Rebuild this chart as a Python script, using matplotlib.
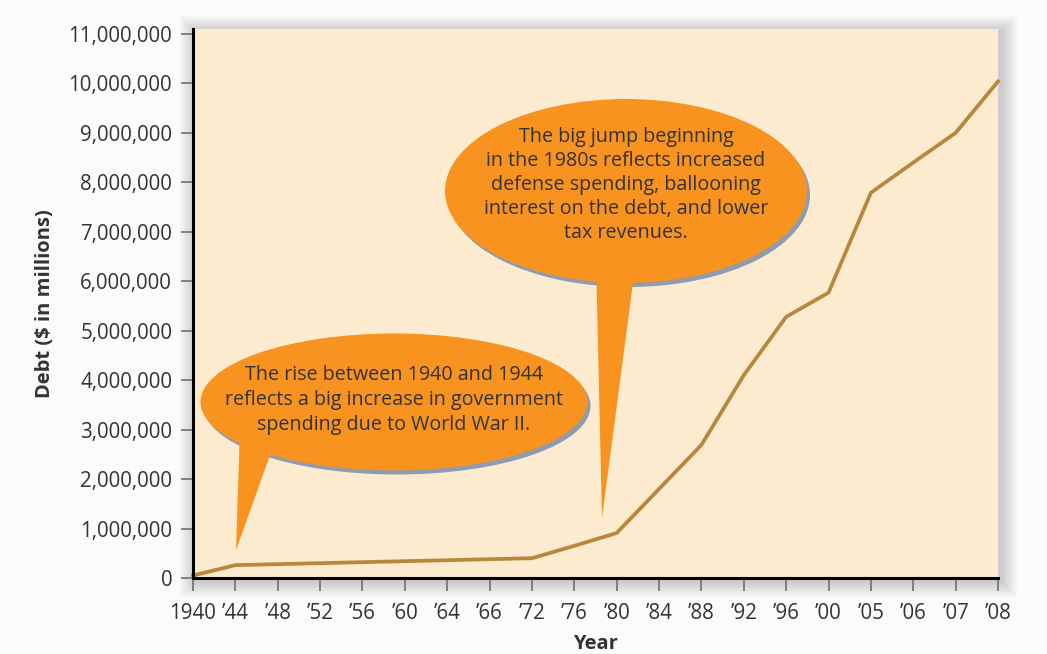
import matplotlib
matplotlib.use('Agg')
from matplotlib import pyplot as plt
from matplotlib.patches import Ellipse, Polygon, Rectangle
from matplotlib.ticker import FuncFormatter

plt.rcParams['font.family'] = ['Open Sans', 'DejaVu Sans']

# data
years = ['1940', '\u201944', '\u201948', '\u201952', '\u201956', '\u201960', '\u201964', '\u201966',
         '\u201972', '\u201976', '\u201980', '\u201984', '\u201988', '\u201992', '\u201996', '\u201900',
         '\u201905', '\u201906', '\u201907', '\u201908']
debt = [50000, 260000, 280000, 300000, 320000, 340000, 360000, 380000,
        400000, 650000, 910000, 1800000, 2690000, 4100000, 5280000, 5770000,
        7790000, 8400000, 9000000, 10040000]
y_ticks = list(range(0, 11000001, 1000000))

note_ww2 = ('The rise between 1940 and 1944\n'
            'reflects a big increase in government\n'
            'spending due to World War II.')
note_80s = ('The big jump beginning\n'
            'in the 1980s reflects increased\n'
            'defense spending, ballooning\n'
            'interest on the debt, and lower\n'
            'tax revenues.')

W, H = 1047, 654
L, R, T, B = 193, 998, 29, 578

CREAM = '#fdebcf'
ORANGE = '#f7931e'
LINE = '#b8873b'
TEXT = '#333333'
SHADOW = '#8e9cb0'

fig = plt.figure(figsize=(W / 100, H / 100), dpi=100, facecolor='#fbfbfb')
ax = fig.add_axes([L / W, 1 - B / H, (R - L) / W, (B - T) / H])
ax.set_facecolor(CREAM)

# soft shadow round the plot panel
for i in range(1, 9):
    g = i * 2
    fig.patches.append(Rectangle(((L - g + 3) / W, 1 - (B + g + 3) / H),
                                 (R - L + 2 * g) / W, (B - T + 2 * g) / H,
                                 transform=fig.transFigure, facecolor='black',
                                 alpha=0.025, edgecolor='none', zorder=-1))

x = list(range(len(years)))
ax.plot(x, debt, color=LINE, lw=2.7, solid_joinstyle='miter', zorder=3, clip_on=False)

ax.set_xlim(0, len(years) - 1)
ax.set_ylim(0, 11.1e6)
ax.set_xticks(x)
ax.set_xticklabels(years)
ax.set_yticks(y_ticks)
ax.yaxis.set_major_formatter(FuncFormatter(lambda v, p: f'{int(v):,}'))
ax.tick_params(axis='both', colors='#666666', labelcolor=TEXT, labelsize=14.8,
               direction='out', length=9, width=1.1)
ax.tick_params(axis='x', pad=9)
ax.tick_params(axis='y', pad=6)

for s in ['top', 'right']:
    ax.spines[s].set_visible(False)
for s in ['left', 'bottom']:
    ax.spines[s].set_color('black')
    ax.spines[s].set_linewidth(2.2)
    ax.spines[s].set_zorder(4)

ax.set_xlabel('Year', fontsize=14.5, fontweight='bold', color=TEXT, labelpad=7)
ax.set_ylabel('Debt ($ in millions)', fontsize=14.5, fontweight='bold', color=TEXT, labelpad=10)


def to_ax(px, py):
    return ((px - L) / (R - L), (B - py) / (B - T))


def bubble(cx, cy, w, h, tail, text, ty, ls):
    tr = ax.transAxes
    ax.add_patch(Ellipse(to_ax(cx + 3, cy + 4), w / (R - L), h / (B - T), transform=tr,
                         facecolor=SHADOW, edgecolor='none', zorder=5, clip_on=False))
    ax.add_patch(Ellipse(to_ax(cx, cy), w / (R - L), h / (B - T), transform=tr,
                         facecolor=ORANGE, edgecolor='none', zorder=6, clip_on=False))
    ax.add_patch(Polygon([to_ax(px, py) for px, py in tail], closed=True, transform=tr,
                         facecolor=ORANGE, edgecolor='none', zorder=6, clip_on=False))
    ax.text(*to_ax(cx, ty), text, transform=tr, ha='center', va='center',
            fontsize=14.2, color=TEXT, linespacing=ls, zorder=7)


bubble(394, 402, 387, 137, [(240, 428), (278, 433), (236, 550)], note_ww2, 400, 1.33)
bubble(626, 191, 362, 184, [(596, 260), (636, 260), (602, 518)], note_80s, 185, 1.28)

fig.savefig('out.png', dpi=100, facecolor=fig.get_facecolor())
